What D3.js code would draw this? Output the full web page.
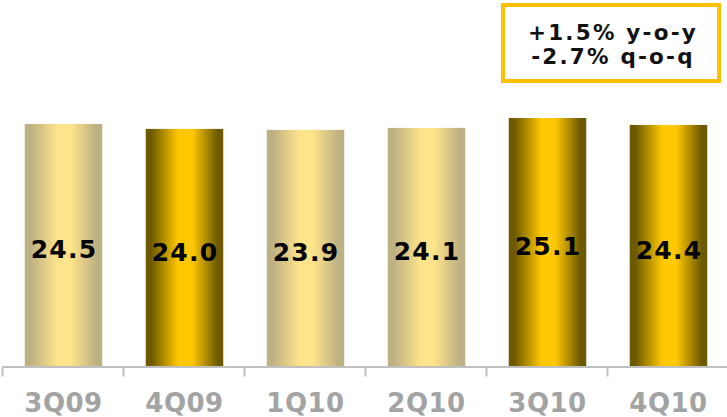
<!DOCTYPE html>
<html>
<head>
<meta charset="utf-8">
<script src="https://cdn.jsdelivr.net/npm/d3@7"></script>
<style>
  html, body { margin: 0; padding: 0; background: #fff; }
  svg { display: block; }
</style>
</head>
<body>
<svg id="chart" width="727" height="417"></svg>
<script>
const categories = ["3Q09", "4Q09", "1Q10", "2Q10", "3Q10", "4Q10"];
const values = [24.5, 24.0, 23.9, 24.1, 25.1, 24.4];
const barStyle = ["light", "dark", "light", "light", "dark", "dark"];
const calloutLines = ["+1.5% y-o-y", "-2.7% q-o-q"];

const svg = d3.select("#chart");

const x = d3.scaleBand().domain(categories).range([3, 729]).paddingInner(0).paddingOuter(0);
const y = d3.scaleLinear().domain([0, 30]).range([366.5, 69.5]);

const defs = svg.append("defs");
const grads = {
  light: { edge: "#BDB083", mid: "#FDE38A" },
  dark:  { edge: "#6C5900", mid: "#FFC800" }
};
Object.entries(grads).forEach(([k, c]) => {
  const g = defs.append("linearGradient").attr("id", "g-" + k)
    .attr("x1", "0%").attr("x2", "100%").attr("y1", "0%").attr("y2", "0%");
  [[0, c.edge], [0.07, c.edge], [0.42, c.mid], [0.6, c.mid], [0.93, c.edge], [1, c.edge]]
    .forEach(([o, col]) => g.append("stop").attr("offset", o).attr("stop-color", col));
});

const barW = 77.5;
const bars = svg.append("g");
bars.selectAll("rect").data(categories).join("rect")
  .attr("x", d => x(d) + x.bandwidth() / 2 - barW / 2)
  .attr("y", (d, i) => y(values[i]))
  .attr("width", barW)
  .attr("height", (d, i) => y(0) - y(values[i]))
  .attr("fill", (d, i) => "url(#g-" + barStyle[i] + ")");

bars.selectAll("text").data(categories).join("text")
  .attr("x", d => x(d) + x.bandwidth() / 2 + 0.5)
  .attr("y", (d, i) => (y(values[i]) + y(0)) / 2 + 13)
  .attr("text-anchor", "middle")
  .attr("font-family", "DejaVu Sans, Verdana, sans-serif")
  .attr("font-weight", "bold")
  .attr("font-size", 25)
  .attr("letter-spacing", "1.2px")
  .attr("fill", "#000")
  .text((d, i) => values[i].toFixed(1));

// axis
const axisG = svg.append("g").attr("transform", `translate(0,${367})`);
const xAxis = d3.axisBottom(x).tickSize(0).tickFormat(d => d);
axisG.call(xAxis);
axisG.select(".domain").remove();
axisG.append("line").attr("x1", 2).attr("x2", 727).attr("y1", 0).attr("y2", 0)
  .attr("stroke", "#C0C0C0").attr("stroke-width", 2);
axisG.selectAll(".tickmark").data(categories).join("line")
  .attr("class", "tickmark")
  .attr("x1", d => x(d) - 0.5).attr("x2", d => x(d) - 0.5)
  .attr("y1", 0).attr("y2", 9.5)
  .attr("stroke", "#C0C0C0").attr("stroke-width", 2);
axisG.selectAll(".tick text")
  .attr("y", 45)
  .attr("dy", null)
  .attr("font-family", "DejaVu Sans, Verdana, sans-serif")
  .attr("font-weight", "bold")
  .attr("font-size", 26)
  .attr("letter-spacing", "0.5px")
  .attr("fill", "#A3A3A3");

// callout box
const box = svg.append("g");
box.append("rect").attr("x", 503).attr("y", 5).attr("width", 216).attr("height", 76)
  .attr("fill", "#fff").attr("stroke", "#FFC000").attr("stroke-width", 4);
box.selectAll("text").data(calloutLines).join("text")
  .attr("x", 613)
  .attr("y", (d, i) => 40 + i * 24)
  .attr("text-anchor", "middle")
  .attr("font-family", "DejaVu Sans, Verdana, sans-serif")
  .attr("font-weight", "bold")
  .attr("font-size", 21.5)
  .attr("letter-spacing", "2.2px")
  .attr("fill", "#111")
  .text(d => d);
</script>
</body>
</html>
